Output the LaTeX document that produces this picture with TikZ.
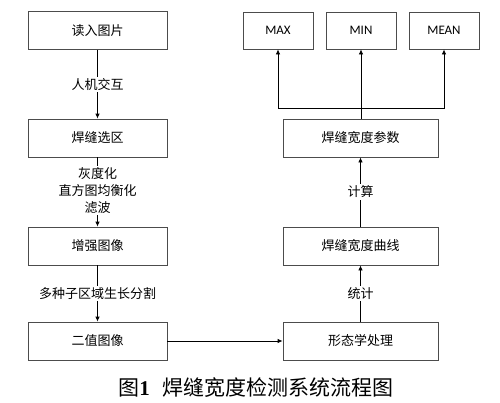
\documentclass[tikz,border=0pt]{standalone}
\usepackage{fontspec}
\newfontfamily\cjk{Noto Sans CJK SC}
\newfontfamily\latf{Carlito}
\newfontfamily\capf{Liberation Serif}
\usetikzlibrary{arrows.meta}
\begin{document}
\begin{tikzpicture}[x=1pt,y=-1pt,
  box/.style={draw=black!70,line width=0.8pt,minimum height=38pt,inner sep=0pt,font=\cjk\fontsize{13}{15}\selectfont},
  lbox/.style={box,minimum width=139pt},
  rbox/.style={box,minimum width=155pt},
  tbox/.style={box,minimum width=70pt,minimum height=37pt,font=\latf\fontsize{13}{15}\selectfont},
  arr/.style={draw=black,line width=0.8pt,-{Latex[length=5pt,width=4.5pt]}},
  lab/.style={fill=white,inner sep=1.5pt,font=\cjk\fontsize{13}{17}\selectfont,align=center}]
\useasboundingbox (0,0) rectangle (500,402);
\node[lbox] (a) at (97.5,30.5) {读入图片};
\node[lbox] (b) at (97.5,138) {焊缝选区};
\node[lbox] (c) at (97.5,246) {增强图像};
\node[lbox] (d) at (97.5,341) {二值图像};
\node[rbox] (e) at (360.5,341) {形态学处理};
\node[rbox] (f) at (360.5,246) {焊缝宽度曲线};
\node[rbox] (g) at (360.5,138) {焊缝宽度参数};
\node[tbox] (mx) at (278,30.5) {MAX};
\node[tbox] (mn) at (361,30.5) {MIN};
\node[tbox] (me) at (444,30.5) {MEAN};
\draw[arr] (a) -- node[lab] {人机交互} (b);
\draw[arr] (b) -- node[lab,pos=0.48] {灰度化\\直方图均衡化\\滤波} (c);
\draw[arr] (c) -- node[lab] {多种子区域生长分割} (d);
\draw[arr] (d) -- (e);
\draw[arr] (e) -- node[lab] {统计} (f);
\draw[arr] (f) -- node[lab] {计算} (g);
\coordinate (j) at (361,108);
\draw[arr] (g.north -| mn) -- (mn.south);
\draw[arr] (j) -| (mx.south);
\draw[arr] (j) -| (me.south);
\node[font=\cjk\fontsize{21}{24}\selectfont] (cap) at (256,388) {图{\capf\bfseries 1}\hspace{0.6em}焊缝宽度检测系统流程图};
\end{tikzpicture}
\end{document}
